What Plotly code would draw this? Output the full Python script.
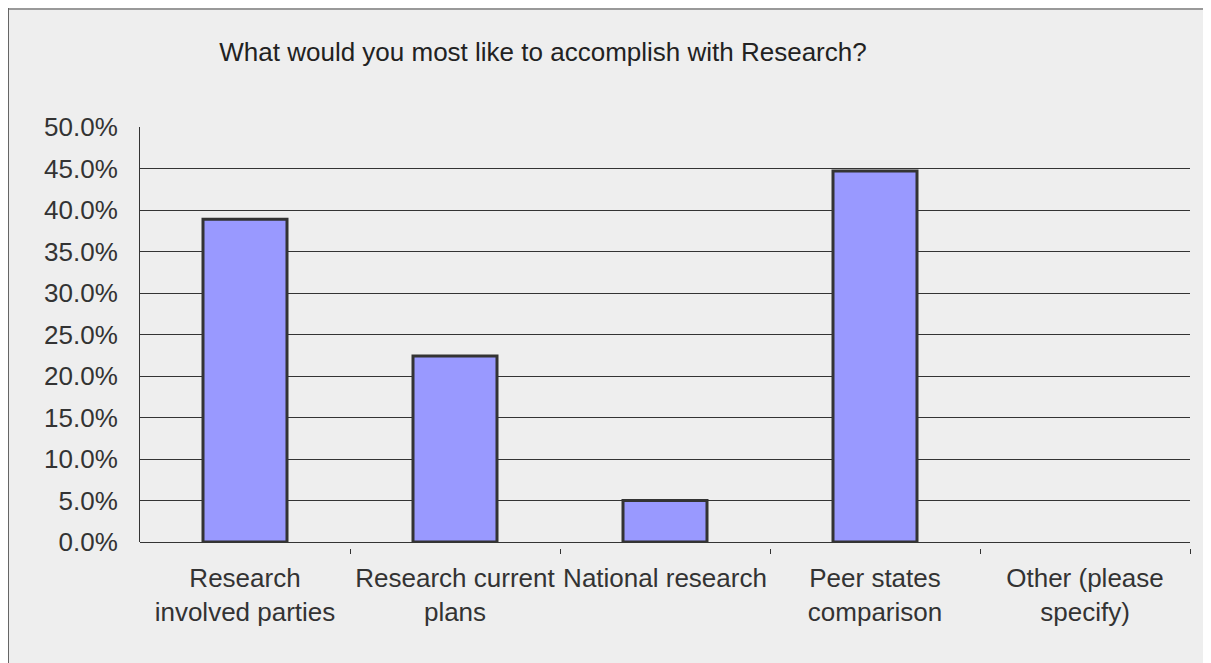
import plotly.graph_objects as go

# data
categories = ["Research<br>involved parties", "Research current<br>plans",
              "National research", "Peer states<br>comparison", "Other (please<br>specify)"]
percent = [38.9, 22.4, 5.0, 44.7, 0.0]
y_ticks = [0, 5, 10, 15, 20, 25, 30, 35, 40, 45, 50]
y_tick_text = ["%.1f%%" % v for v in y_ticks]

title = "What would you most like to accomplish with Research?"

# the page has an 8px body margin, so the figure is a bit smaller than the window
W, H = 1203, 655
BG = "#eeeeee"
INK = "#333333"
FONT = "Liberation Sans, Arial, sans-serif"

# plot box in figure pixels
left, right, top, axis_y, zero_y = 132, 1182, 119, 540, 534

xs = list(range(len(categories)))
outline = [3 if v > 0 else 0 for v in percent]

fig = go.Figure()
fig.add_trace(go.Bar(
    x=xs, y=percent, width=0.4,
    marker=dict(color="#9999ff", line=dict(color=INK, width=outline)),
    hoverinfo="y",
))
# invisible trace on the 2nd x axis so the boundary ticks get drawn
fig.add_trace(go.Scatter(x=[-0.5, 4.5], y=[0, 0], xaxis="x2", mode="markers",
                         marker=dict(opacity=0), hoverinfo="skip", showlegend=False))

plot_h = axis_y - top
plot_w = right - left
dom0 = (axis_y - zero_y) / plot_h

fig.update_layout(
    width=W, height=H,
    paper_bgcolor=BG, plot_bgcolor=BG,
    margin=dict(l=left, r=W - right, t=top, b=H - axis_y, pad=0),
    showlegend=False,
    font=dict(family=FONT, size=26, color=INK),
    title=dict(text=title, x=(535 - left) / plot_w, xref="paper", xanchor="center",
               y=1 - 44 / H, yanchor="middle", font=dict(size=26, color="#222222")),
    xaxis=dict(range=[-0.5, 4.5], tickmode="array", tickvals=xs, ticktext=categories,
               ticks="", showgrid=False, zeroline=False, showline=False,
               ticklabelstandoff=12,
               anchor="free", position=0, fixedrange=True),
    xaxis2=dict(range=[-0.5, 4.5], overlaying="x", tickmode="array",
                tickvals=[0.5, 1.5, 2.5, 3.5, 4.5], showticklabels=False,
                ticks="outside", ticklen=5, tickcolor=INK, tickwidth=1,
                showgrid=False, zeroline=False, showline=False,
                anchor="free", position=0, side="bottom"),
    yaxis=dict(range=[0, 50], domain=[dom0, 1], tickmode="array", tickvals=y_ticks,
               ticktext=y_tick_text, showgrid=True, gridcolor=INK, gridwidth=1,
               zeroline=True, zerolinecolor=INK, zerolinewidth=1,
               showline=True, linecolor=INK, linewidth=1,
               ticks="", ticklabelstandoff=16, fixedrange=True),
    shapes=[
        # outer frame (top and left edges of the figure)
        dict(type="line", xref="paper", yref="paper",
             x0=-left / plot_w, x1=(W - left) / plot_w,
             y0=(axis_y - 1) / plot_h, y1=(axis_y - 1) / plot_h,
             line=dict(color="#999999", width=2)),
        dict(type="line", xref="paper", yref="paper",
             x0=(0.5 - left) / plot_w, x1=(0.5 - left) / plot_w,
             y0=axis_y / plot_h, y1=(axis_y - H) / plot_h,
             line=dict(color="#666666", width=1)),
    ],
)

fig.write_html("out.html")
